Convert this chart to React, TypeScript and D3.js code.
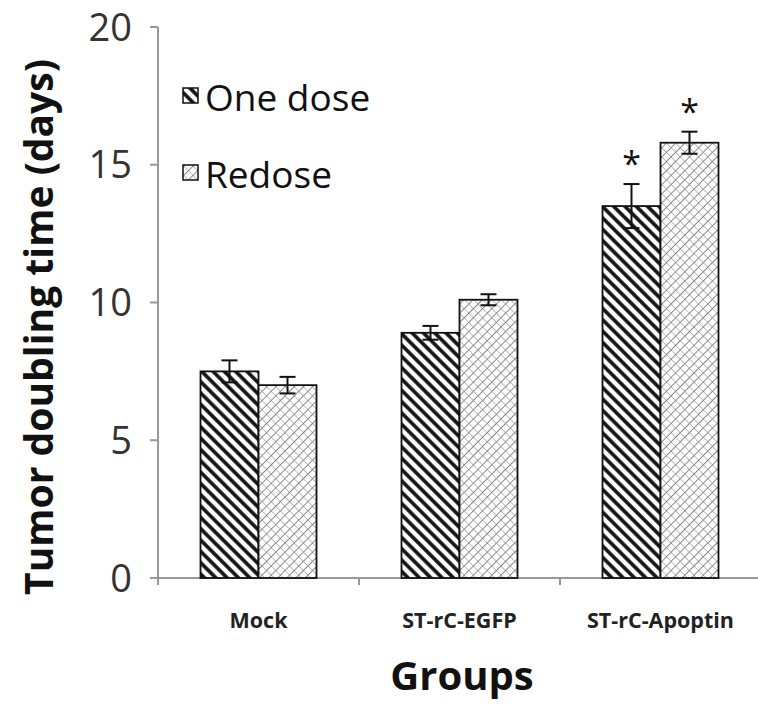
import React from "react";
import * as d3 from "d3";

const categories = ["Mock", "ST-rC-EGFP", "ST-rC-Apoptin"];
const seriesNames = ["One dose", "Redose"];
const oneDose = [7.5, 8.9, 13.5];
const oneDoseErr = [0.4, 0.25, 0.8];
const redose = [7.0, 10.1, 15.8];
const redoseErr = [0.3, 0.2, 0.4];
const significant = [[false, false], [false, false], [true, true]];
const yTicks = [0, 5, 10, 15, 20];

const W = 758;
const H = 707;
const FONT = "'Open Sans', sans-serif";

export default function App() {
  const x = d3.scaleBand<string>().domain(categories).range([158, 761]).paddingInner(0).paddingOuter(0);
  const y = d3.scaleLinear().domain([0, 20]).range([578, 27]);
  const barW = 58;
  const series = [
    { vals: oneDose, errs: oneDoseErr, fill: "url(#p1)" },
    { vals: redose, errs: redoseErr, fill: "url(#p2)" },
  ];
  return (
    <svg width={W} height={H} style={{ position: "absolute", left: 0, top: 0, background: "#fff" }}>
      <defs>
        <pattern id="p1" patternUnits="userSpaceOnUse" width="8" height="8" patternTransform="rotate(-45)">
          <rect width="8" height="8" fill="#fff" />
          <line x1="0" y1="0" x2="0" y2="8" stroke="#111" strokeWidth="3.6" />
          <line x1="8" y1="0" x2="8" y2="8" stroke="#111" strokeWidth="3.6" />
        </pattern>
        <pattern id="p2" patternUnits="userSpaceOnUse" width="6.5" height="6.5" patternTransform="rotate(45)">
          <rect width="6.5" height="6.5" fill="#fff" />
          <line x1="0" y1="0" x2="0" y2="6.5" stroke="#666" strokeWidth="1.5" />
          <line x1="0" y1="0" x2="6.5" y2="0" stroke="#888" strokeWidth="1.1" />
        </pattern>
      </defs>
      {/* y axis */}
      <line x1={158} x2={158} y1={y(20)} y2={y(0) + 7} stroke="#999" strokeWidth={2} />
      {yTicks.map((t) => (
        <g key={t}>
          <line x1={150} x2={158} y1={y(t)} y2={y(t)} stroke="#999" strokeWidth={2} />
          <text x={132} y={y(t)} dy="0.36em" textAnchor="end" fontFamily={FONT} fontSize={38} fill="#333">{t}</text>
        </g>
      ))}
      {/* x axis */}
      <line x1={150} x2={758} y1={y(0)} y2={y(0)} stroke="#999" strokeWidth={2} />
      {categories.map((c) => (
        <line key={c} x1={x(c)!} x2={x(c)!} y1={y(0)} y2={y(0) + 7} stroke="#999" strokeWidth={2} />
      ))}
      {/* bars */}
      {categories.map((c, i) => {
        const cx = x(c)! + x.bandwidth() / 2;
        return (
          <g key={c}>
            {series.map((s, j) => {
              const bx = cx - barW + j * barW;
              const v = s.vals[i];
              const e = s.errs[i];
              const mx = bx + barW / 2;
              return (
                <g key={j}>
                  <rect x={bx} y={y(v)} width={barW} height={y(0) - y(v)} fill={s.fill} stroke="#111" strokeWidth={1.8} />
                  <line x1={mx} x2={mx} y1={y(v + e)} y2={y(v - e)} stroke="#111" strokeWidth={2} />
                  <line x1={mx - 8} x2={mx + 8} y1={y(v + e)} y2={y(v + e)} stroke="#111" strokeWidth={2} />
                  <line x1={mx - 8} x2={mx + 8} y1={y(v - e)} y2={y(v - e)} stroke="#111" strokeWidth={2} />
                  {significant[i][j] && (
                    <text x={mx} y={y(v + e) - 8} textAnchor="middle" fontFamily={FONT} fontSize={34} fill="#111">*</text>
                  )}
                </g>
              );
            })}
            <text x={cx} y={628} textAnchor="middle" fontFamily={FONT} fontWeight="bold" fontSize={21.5} fill="#222">{c}</text>
          </g>
        );
      })}
      {/* legend */}
      {seriesNames.map((n, j) => (
        <g key={n}>
          <rect x={183} y={88 + j * 77} width={15} height={15} fill={series[j].fill} stroke="#111" strokeWidth={1.5} />
          <text x={205} y={111 + j * 77} fontFamily={FONT} fontSize={37} fill="#111">{n}</text>
        </g>
      ))}
      {/* titles */}
      <text transform={`translate(53,${327}) rotate(-90)`} textAnchor="middle" fontFamily={FONT} fontWeight="bold" fontSize={39} fill="#111">Tumor doubling time (days)</text>
      <text x={462} y={690} textAnchor="middle" fontFamily={FONT} fontWeight="bold" fontSize={40} fill="#111">Groups</text>
    </svg>
  );
}
